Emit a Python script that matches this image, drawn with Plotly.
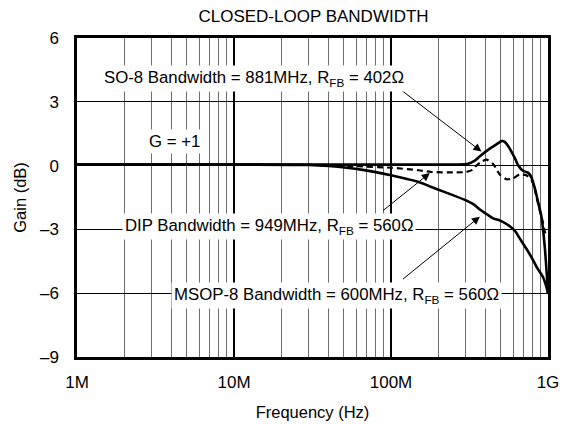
import plotly.graph_objects as go

# Frequencies (Hz) and gains (dB)
so8_freq = [1e6, 1e7, 1e8, 2e8, 3.05e8, 3.4e8, 3.68e8, 4.26e8, 4.7e8, 5.06e8, 5.3e8, 5.57e8,
            6.14e8, 6.45e8, 6.93e8, 7.46e8, 7.84e8, 8.23e8, 8.64e8, 9.08e8, 9.53e8, 9.8e8, 1e9]
so8_gain = [0.05, 0.05, 0.05, 0.05, 0.07, 0.22, 0.44, 0.8, 1.0, 1.15, 1.12, 0.92,
            0.36, 0.02, -0.24, -0.33, -0.55, -1.05, -1.7, -2.4, -3.8, -5.0, -6.0]

dip_freq = [1e6, 1e7, 4e7, 6e7, 1e8, 1.5e8, 1.8e8, 2.5e8, 3e8, 3.3e8, 3.5e8, 3.8e8, 4.06e8,
            4.47e8, 4.93e8, 5.43e8, 5.98e8, 6.58e8, 7.26e8, 7.83e8, 8.22e8, 8.43e8, 8.85e8,
            9.3e8, 9.62e8, 1e9]
dip_gain = [0.05, 0.05, 0.02, -0.03, -0.1, -0.22, -0.3, -0.32, -0.3, -0.2, 0.0, 0.2, 0.28,
            0.08, -0.42, -0.64, -0.6, -0.42, -0.45, -0.66, -1.06, -1.46, -2.08,
            -2.71, -3.18, -3.3]

msop_freq = [1e6, 1e7, 3e7, 4e7, 6.6e7, 1e8, 1.47e8, 1.95e8, 2.5e8, 3.03e8, 3.4e8, 3.7e8,
             4.1e8, 4.47e8, 5e8, 5.71e8, 6.2e8, 6.58e8, 7.27e8, 8.03e8, 8.51e8, 9.3e8, 9.77e8, 1e9]
msop_gain = [0.05, 0.05, 0.03, -0.02, -0.2, -0.45, -0.75, -1.1, -1.4, -1.65, -1.85, -2.08,
             -2.3, -2.48, -2.6, -2.85, -3.1, -3.4, -3.9, -4.44, -4.8, -5.25, -5.7, -6.0]

x_tick_vals = [1e6, 1e7, 1e8, 1e9]
x_tick_text = ["1M", "10M", "100M", "1G"]
x_minor_vals = [m * d for d in (1e6, 1e7, 1e8) for m in range(2, 10)]
y_tick_vals = [-9, -6, -3, 0, 3, 6]
y_tick_text = ["\u20139", "\u20136", "\u20133", "0", "3", "6"]

FONT = "Liberation Sans, Arial, Helvetica, sans-serif"

fig = go.Figure()
fig.add_trace(go.Scatter(x=msop_freq, y=msop_gain, mode="lines",
                         line=dict(color="black", width=2.6, shape="spline", smoothing=0.6)))
fig.add_trace(go.Scatter(x=dip_freq, y=dip_gain, mode="lines",
                         line=dict(color="black", width=2.2, dash="6px,4px", shape="spline", smoothing=0.6)))
fig.add_trace(go.Scatter(x=so8_freq, y=so8_gain, mode="lines",
                         line=dict(color="black", width=2.6, shape="spline", smoothing=0.6)))

# arrows (tip at x/y, tail at ax/ay, in data coordinates; log axis uses log10 values)
arrows = [
    (8.576, 0.66, 8.044, 3.67),
    (8.247, -0.35, 7.940, -2.17),
    (8.566, -2.40, 8.067, -5.39),
]
for tx, ty, sx, sy in arrows:
    fig.add_annotation(x=tx, y=ty, ax=sx, ay=sy, xref="x", yref="y", axref="x", ayref="y",
                       text="", showarrow=True, arrowhead=2, arrowsize=1.6, arrowwidth=1,
                       arrowcolor="black", standoff=0)

labels = [
    (7.125, 4.09, "SO-8 Bandwidth = 881MHz, R<sub>FB</sub> = 402\u03a9"),
    (6.622, 1.14, "G = +1"),
    (7.223, -2.84, "DIP Bandwidth = 949MHz, R<sub>FB</sub> = 560\u03a9"),
    (7.656, -6.09, "MSOP-8 Bandwidth = 600MHz, R<sub>FB</sub> = 560\u03a9"),
]
for lx, ly, txt in labels:
    fig.add_annotation(x=lx, y=ly, xref="x", yref="y", text=txt, showarrow=False,
                       bgcolor="white", borderpad=2,
                       font=dict(family=FONT, size=16.8, color="black"))

fig.update_layout(
    width=568, height=424,
    margin=dict(l=77, r=20, t=38, b=67),
    paper_bgcolor="white", plot_bgcolor="white",
    showlegend=False,
    font=dict(family=FONT, size=16, color="black"),
    title=dict(text="CLOSED-LOOP BANDWIDTH", x=0.552, xanchor="center", y=0.962, yanchor="middle",
               font=dict(family=FONT, size=17, color="black")),
)
fig.update_xaxes(
    type="log", range=[6, 9], automargin=False,
    tickvals=x_tick_vals, ticktext=x_tick_text,
    showgrid=True, gridcolor="black", gridwidth=2,
    minor=dict(tickvals=x_minor_vals, showgrid=True, gridcolor="#6e6e6e", gridwidth=1),
    showline=True, linecolor="black", linewidth=2.5, mirror=True,
    ticks="", ticklabelstandoff=8, zeroline=False,
    title=dict(text="Frequency (Hz)", font=dict(family=FONT, size=16.5), standoff=16),
    tickfont=dict(family=FONT, size=17),
)
fig.update_yaxes(
    range=[-9, 6], automargin=False,
    tickvals=y_tick_vals, ticktext=y_tick_text,
    showgrid=True, gridcolor="black", gridwidth=1,
    showline=True, linecolor="black", linewidth=2.5, mirror=True,
    ticks="", ticklabelstandoff=12, zeroline=False,
    title=dict(text="Gain (dB)", font=dict(family=FONT, size=16.5), standoff=10),
    tickfont=dict(family=FONT, size=17),
)

fig.write_html("out.html", config={"displayModeBar": False},
               post_script="document.body.style.margin='0px';")
